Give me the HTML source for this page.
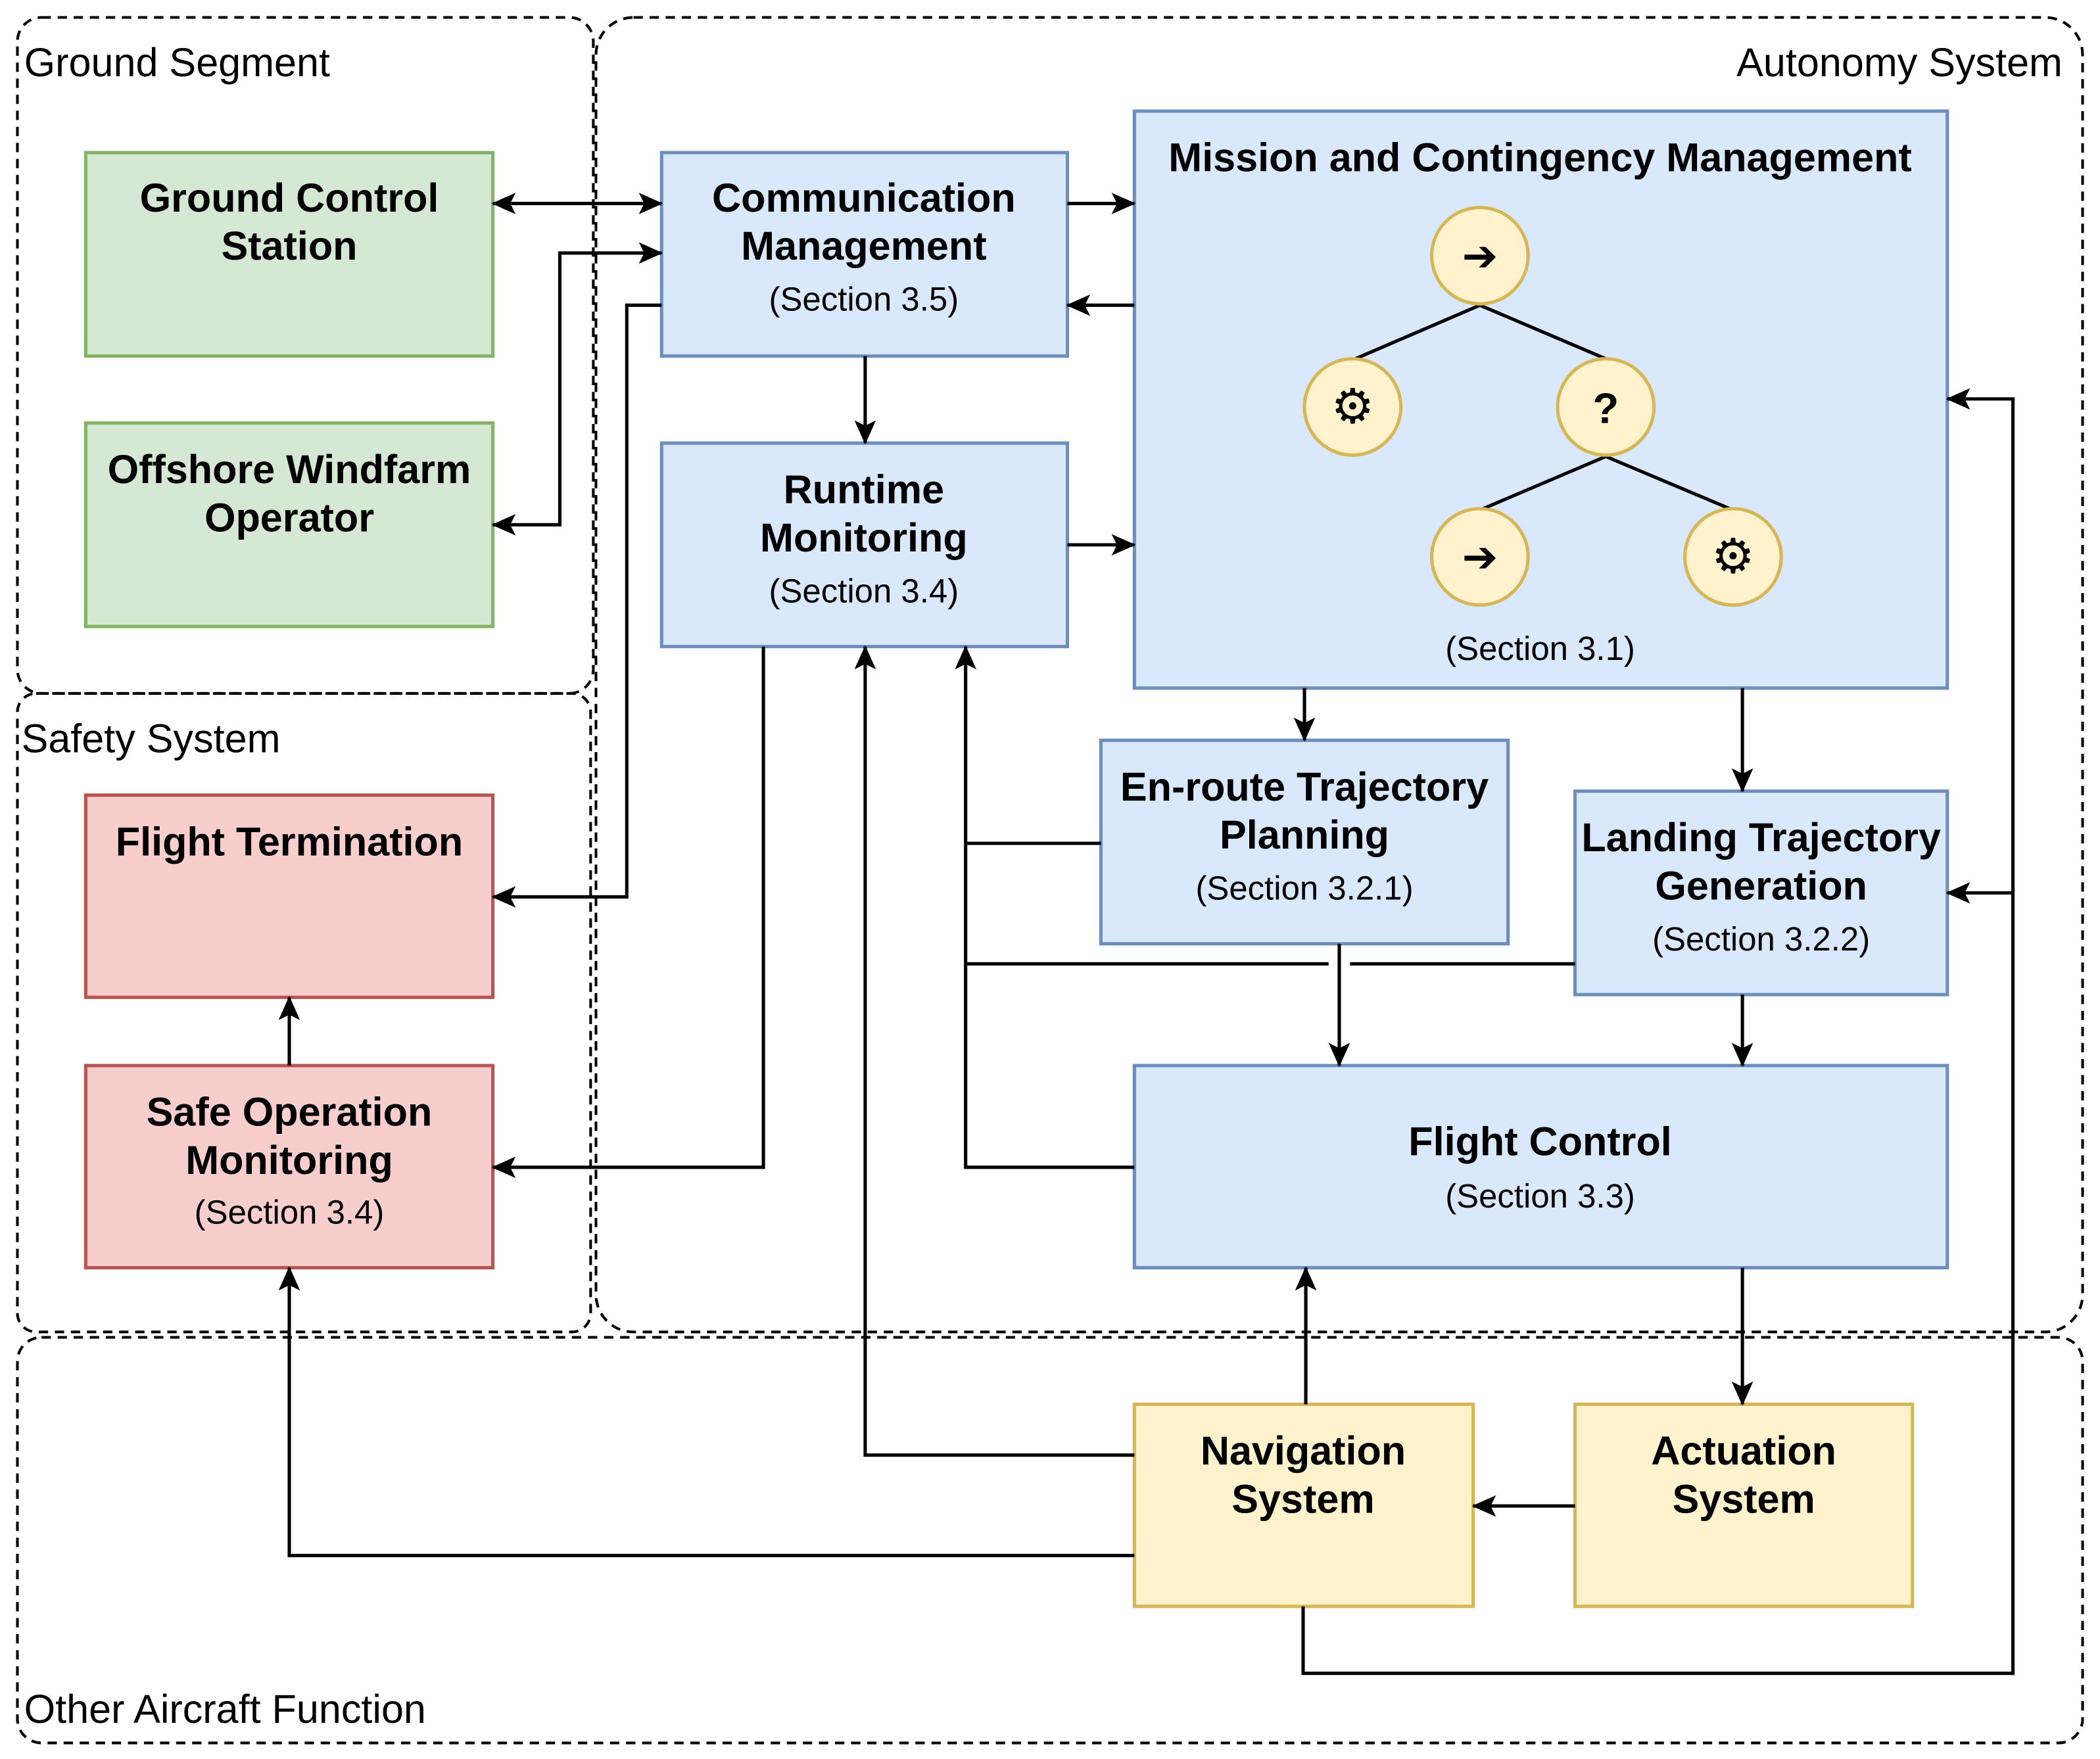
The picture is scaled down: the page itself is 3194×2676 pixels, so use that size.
<!DOCTYPE html>
<html><head><meta charset="utf-8"><style>
html,body{margin:0;padding:0;background:#fff}
svg{display:block}
text{font-family:"Liberation Sans","DejaVu Sans",sans-serif;fill:#000}
.b{font-weight:bold;font-size:30px}
.s{font-size:25px}
.l{font-size:30px}
</style></head><body>
<svg width="3194" height="2676" viewBox="0 0 1568 1314" preserveAspectRatio="none" xmlns="http://www.w3.org/2000/svg">
<defs>
<marker id="a" viewBox="0 0 18 16" refX="17" refY="8" markerWidth="18" markerHeight="16" markerUnits="userSpaceOnUse" orient="auto-start-reverse">
<path d="M0,0 L18,8 L0,16 L4,8 z" fill="#000"/></marker>
</defs>
<g fill="none" stroke="#000" stroke-width="2" stroke-dasharray="7,5">
<rect x="13" y="13" width="430" height="505" rx="18"/>
<rect x="445" y="13" width="1110" height="982" rx="28"/>
<rect x="13" y="518" width="428" height="477" rx="14"/>
<rect x="13" y="999" width="1542" height="303" rx="18"/>
</g>
<text class="l" x="18" y="57">Ground Segment</text>
<text class="l" x="1540" y="57" text-anchor="end">Autonomy System</text>
<text class="l" x="16" y="562">Safety System</text>
<text class="l" x="18" y="1287">Other Aircraft Function</text>

<g stroke-width="2.5">
<rect x="64" y="114" width="304" height="152" fill="#d5e8d4" stroke="#82b366"/>
<rect x="64" y="316" width="304" height="152" fill="#d5e8d4" stroke="#82b366"/>
<rect x="494" y="114" width="303" height="152" fill="#dae8fc" stroke="#6c8ebf"/>
<rect x="494" y="331" width="303" height="152" fill="#dae8fc" stroke="#6c8ebf"/>
<rect x="847" y="83" width="607" height="431" fill="#dae8fc" stroke="#6c8ebf"/>
<rect x="822" y="553" width="304" height="152" fill="#dae8fc" stroke="#6c8ebf"/>
<rect x="1176" y="591" width="278" height="152" fill="#dae8fc" stroke="#6c8ebf"/>
<rect x="847" y="796" width="607" height="151" fill="#dae8fc" stroke="#6c8ebf"/>
<rect x="64" y="594" width="304" height="151" fill="#f8cecc" stroke="#b85450"/>
<rect x="64" y="796" width="304" height="151" fill="#f8cecc" stroke="#b85450"/>
<rect x="847" y="1049" width="253" height="151" fill="#fff2cc" stroke="#d6b656"/>
<rect x="1176" y="1049" width="252" height="151" fill="#fff2cc" stroke="#d6b656"/>
</g>

<g stroke="#000" stroke-width="2.5">
<line x1="1105" y1="228" x2="1012" y2="268"/>
<line x1="1105" y1="228" x2="1199" y2="268"/>
<line x1="1199" y1="341" x2="1105" y2="381"/>
<line x1="1199" y1="341" x2="1294" y2="381"/>
</g>
<g fill="#fff2cc" stroke="#d6b656" stroke-width="2.5">
<circle cx="1105" cy="191" r="36"/>
<circle cx="1010" cy="304" r="36"/>
<circle cx="1199" cy="304" r="36"/>
<circle cx="1105" cy="416" r="36"/>
<circle cx="1294" cy="416" r="36"/>
</g>
<g text-anchor="middle">
<text x="1105" y="202" font-size="32" font-weight="bold">➔</text>
<text x="1010" y="316" font-size="36">⚙</text>
<text x="1199" y="316" font-size="32" font-weight="bold">?</text>
<text x="1105" y="427" font-size="32" font-weight="bold">➔</text>
<text x="1294" y="428" font-size="36">⚙</text>
</g>

<g text-anchor="middle">
<text class="b" x="216" y="158">Ground Control</text>
<text class="b" x="216" y="194">Station</text>
<text class="b" x="216" y="361">Offshore Windfarm</text>
<text class="b" x="216" y="397">Operator</text>
<text class="b" x="645" y="158">Communication</text>
<text class="b" x="645" y="194">Management</text>
<text class="s" x="645" y="232">(Section 3.5)</text>
<text class="b" x="645" y="376">Runtime</text>
<text class="b" x="645" y="412">Monitoring</text>
<text class="s" x="645" y="450">(Section 3.4)</text>
<text class="b" x="1150" y="128">Mission and Contingency Management</text>
<text class="s" x="1150" y="493">(Section 3.1)</text>
<text class="b" x="974" y="598">En-route Trajectory</text>
<text class="b" x="974" y="634">Planning</text>
<text class="s" x="974" y="672">(Section 3.2.1)</text>
<text class="b" x="1315" y="636">Landing Trajectory</text>
<text class="b" x="1315" y="672">Generation</text>
<text class="s" x="1315" y="710">(Section 3.2.2)</text>
<text class="b" x="1150" y="863">Flight Control</text>
<text class="s" x="1150" y="902">(Section 3.3)</text>
<text class="b" x="216" y="639">Flight Termination</text>
<text class="b" x="216" y="841">Safe Operation</text>
<text class="b" x="216" y="877">Monitoring</text>
<text class="s" x="216" y="914">(Section 3.4)</text>
<text class="b" x="973" y="1094">Navigation</text>
<text class="b" x="973" y="1130">System</text>
<text class="b" x="1302" y="1094">Actuation</text>
<text class="b" x="1302" y="1130">System</text>
</g>

<g fill="none" stroke="#000" stroke-width="2.5">
<path d="M368,152 H494" marker-start="url(#a)" marker-end="url(#a)"/>
<path d="M368,392 H418 V189 H494" marker-start="url(#a)" marker-end="url(#a)"/>
<path d="M494,228 H468 V670 H368" marker-end="url(#a)"/>
<path d="M797,152 H847" marker-end="url(#a)"/>
<path d="M847,228 H797" marker-end="url(#a)"/>
<path d="M646,266 V331" marker-end="url(#a)"/>
<path d="M797,407 H847" marker-end="url(#a)"/>
<path d="M570,483 V872 H368" marker-end="url(#a)"/>
<path d="M974,514 V553" marker-end="url(#a)"/>
<path d="M1301,514 V591" marker-end="url(#a)"/>
<path d="M822,630 H721"/>
<path d="M847,872 H721 V483" marker-end="url(#a)"/>
<path d="M1176,720 H1008 M992,720 H721"/>
<path d="M1000,705 V796" marker-end="url(#a)"/>
<path d="M1301,743 V796" marker-end="url(#a)"/>
<path d="M1301,947 V1049" marker-end="url(#a)"/>
<path d="M1176,1125 H1100" marker-end="url(#a)"/>
<path d="M975,1049 V947" marker-end="url(#a)"/>
<path d="M847,1087 H646 V483" marker-end="url(#a)"/>
<path d="M847,1162 H216 V947" marker-end="url(#a)"/>
<path d="M973,1200 V1250 H1503 V298 H1454" marker-end="url(#a)"/>
<path d="M1503,667 H1454" marker-end="url(#a)"/>
<path d="M216,796 V745" marker-end="url(#a)"/>
</g>
</svg>
</body></html>
